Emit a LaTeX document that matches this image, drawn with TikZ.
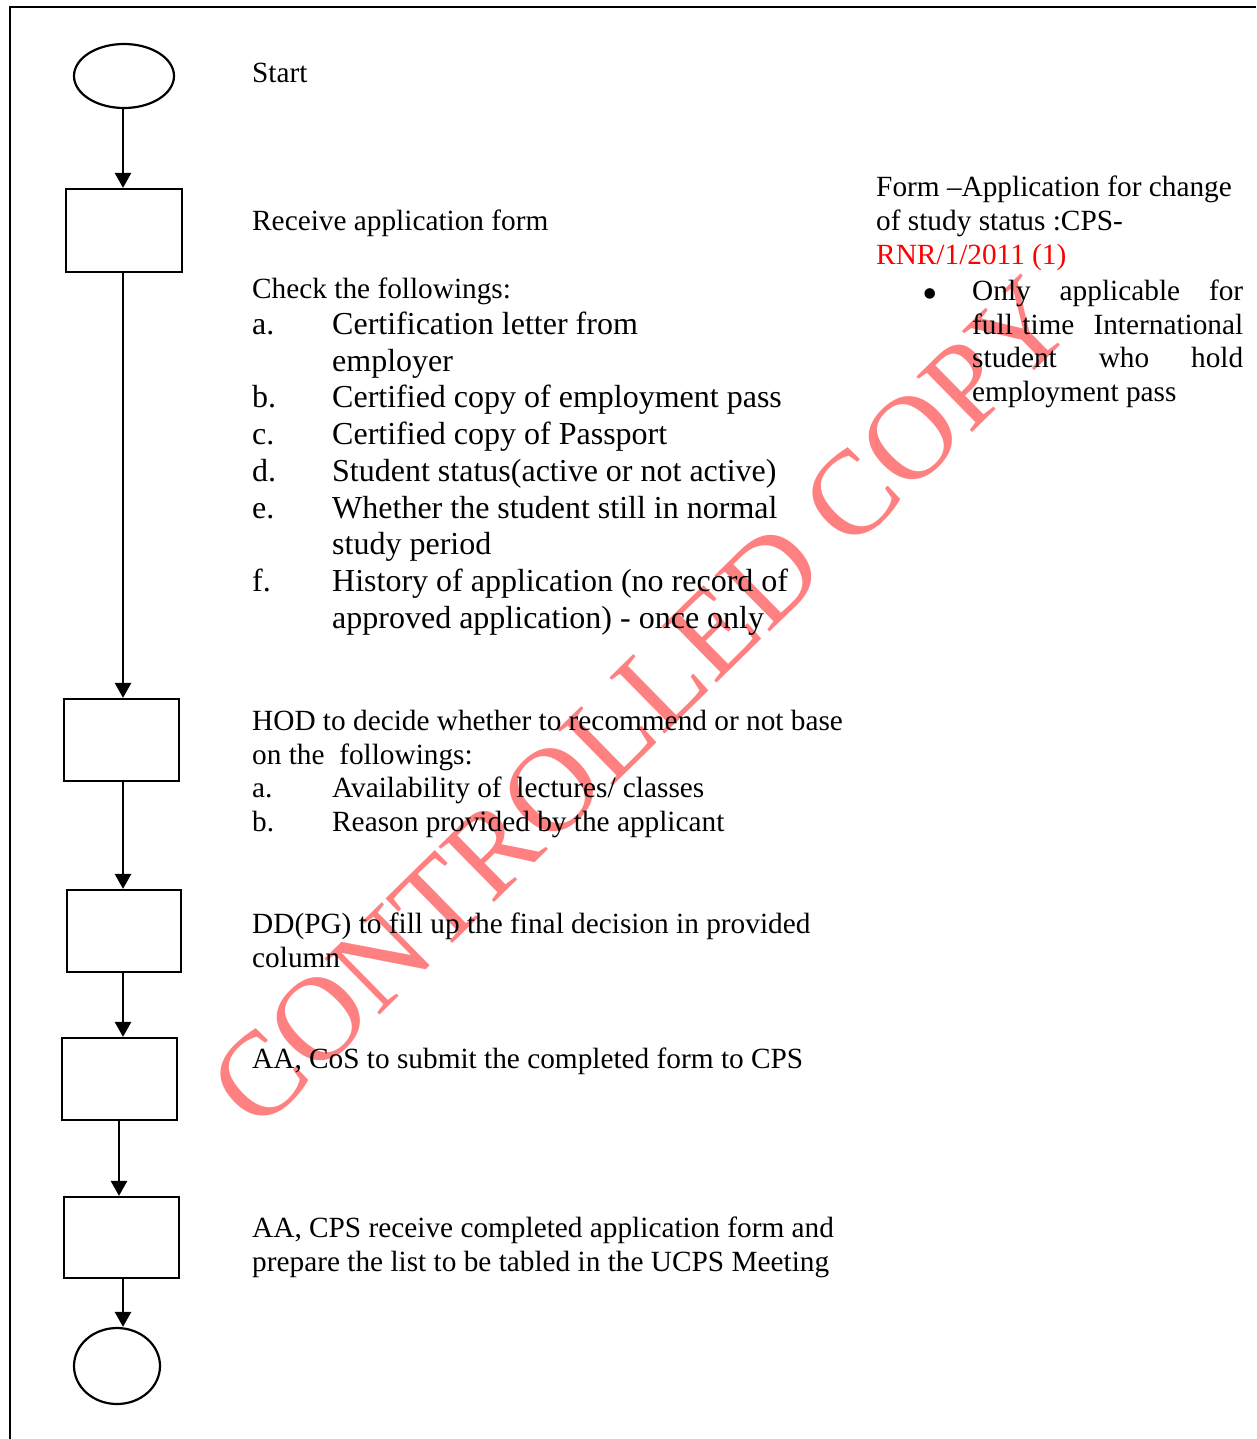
\documentclass[tikz,border=0pt]{standalone}
\usepackage{fontspec}
\setmainfont{Liberation Serif}
\usetikzlibrary{arrows.meta,shapes.geometric}
\definecolor{wmred}{RGB}{255,128,128}
\tikzset{
  box/.style={draw, line width=2.2pt, minimum width=115pt, minimum height=82pt, inner sep=0pt},
  term/.style={draw, ellipse, line width=2.2pt, inner sep=0pt},
  flow/.style={line width=2.6pt, -{Triangle[width=16pt,length=15pt]}},
  txt/.style={anchor=base west, inner sep=0pt, font=\fontsize{29.3}{33.7}\selectfont},
  itm/.style={anchor=base west, inner sep=0pt, font=\fontsize{32}{36.8}\selectfont},
}
\begin{document}
\begin{tikzpicture}[x=1pt,y=-1pt]
\useasboundingbox (0,0) rectangle (1256,1439);
% watermark
\node[rotate=44.5, text=wmred, font=\fontsize{120}{120}\selectfont, inner sep=0pt] (wmk) at (641,703) {CONTROLLED COPY};
% frame
\draw[line width=2.6pt] (10,1439) -- (10,7) -- (1256,7);
% flow shapes
\node[term, minimum width=100pt, minimum height=64pt] (s) at (124,76) {};
\node[box, minimum width=116pt, minimum height=83pt] (b1) at (124,230.5) {};
\node[box] (b2) at (121.5,740) {};
\node[box, minimum width=114pt] (b3) at (124,931) {};
\node[box] (b4) at (119.5,1079) {};
\node[box, minimum height=81pt] (b5) at (121.5,1237.5) {};
\node[term, minimum width=86pt, minimum height=76pt] (e) at (117,1366) {};
% connectors
\draw[flow] ([xshift=-1pt]s.south) -- ([xshift=-1pt]s.south |- b1.north);
\draw[flow] ([xshift=-1pt]b1.south) -- ([xshift=-1pt]b1.south |- b2.north);
\draw[flow] ([xshift=1.5pt]b2.south) -- ([xshift=1.5pt]b2.south |- b3.north);
\draw[flow] ([xshift=-1pt]b3.south) -- ([xshift=-1pt]b3.south |- b4.north);
\draw[flow] ([xshift=-0.5pt]b4.south) -- ([xshift=-0.5pt]b4.south |- b5.north);
\draw[flow] ([xshift=1.5pt]b5.south) -- ([xshift=1.5pt]b5.south |- e.north);
% left column texts
\node[txt] (tstart) at (252,83) {Start};
\node[txt] (trecv) at (252,231) {Receive application form};
\node[txt] (tcheck) at (252,298) {Check the followings:};
\node[itm] (la) at (252,334) {a.};
\node[itm] (ia1) at (332,334) {Certification letter from};
\node[itm] (ia2) at (332,371) {employer};
\node[itm] (lb) at (252,407.5) {b.};
\node[itm] (ib) at (332,407.5) {Certified copy of employment pass};
\node[itm] (lc) at (252,444.5) {c.};
\node[itm] (ic) at (332,444.5) {Certified copy of Passport};
\node[itm] (ld) at (252,481) {d.};
\node[itm] (id) at (332,481) {Student status(active or not active)};
\node[itm] (le) at (252,518) {e.};
\node[itm] (ie1) at (332,518) {Whether the student still in normal};
\node[itm] (ie2) at (332,554.5) {study period};
\node[itm] (lf) at (252,591.5) {f.};
\node[itm] (if1) at (332,591.5) {History of application (no record of};
\node[itm] (if2) at (332,628.5) {approved application) - once only};
\node[txt] (thod1) at (252,730) {HOD to decide whether to recommend or not base};
\node[txt] (thod2) at (252,764) {on the~ followings:};
\node[txt] (lha) at (252,797.5) {a.};
\node[txt] (iha) at (332,797.5) {Availability of~ lectures/ classes};
\node[txt] (lhb) at (252,831.5) {b.};
\node[txt] (ihb) at (332,831.5) {Reason provided by the applicant};
\node[txt] (tdd1) at (252,933) {DD(PG) to fill up the final decision in provided};
\node[txt] (tdd2) at (252,967) {column};
\node[txt] (tcos) at (252,1068) {AA, CoS to submit the completed form to CPS};
\node[txt] (tcps1) at (252,1237) {AA, CPS receive completed application form and};
\node[txt] (tcps2) at (252,1271) {prepare the list to be tabled in the UCPS Meeting};
% right column
\node[txt] (rf1) at (876,197) {Form –Application for change};
\node[txt] (rf2) at (876,231) {of study status :CPS-};
\node[txt, text=red] (rf3) at (876,264) {RNR/1/2011 (1)};
\node[txt, anchor=base, font=\fontsize{44}{44}\selectfont] (bul) at (930,308) {•};
\node[txt] (rb1) at (972,300) {\hbox to 271pt{Only\hfill applicable\hfill for}};
\node[txt] (rb2) at (972,334) {\hbox to 271pt{full\hfill time\hfill\hfill International}};
\node[txt] (rb3) at (972,367) {\hbox to 271pt{student\hfill who\hfill hold}};
\node[txt] (rb4) at (972,401) {employment pass};
\end{tikzpicture}
\end{document}
